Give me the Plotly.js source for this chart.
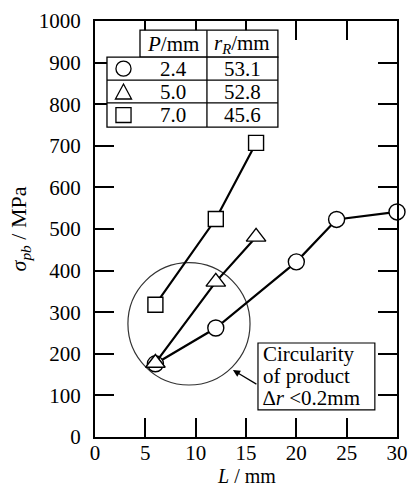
<!DOCTYPE html>
<html><head><meta charset="utf-8">
<script src="https://cdn.plot.ly/plotly-3.0.1.min.js"></script>
<style>html,body{margin:0;padding:0;background:#fff}</style>
</head><body><div id="chart" style="width:409px;height:486px"></div>
<script>
// Data
const circleL = [6, 12, 20, 24, 30];
const circleS = [176, 262, 421, 523, 541];
const triL = [6, 12, 16];
const triS = [178, 373, 481];
const sqL = [6, 12, 16];
const sqS = [318, 524, 707];
const tableHeader = ['<i>P</i>/mm', '<i>r</i><sub><i>R</i></sub>/mm'];
const tableP = ['2.4', '5.0', '7.0'];
const tableR = ['53.1', '52.8', '45.6'];
const noteLines = ['Circularity', 'of product', '<i>∆r</i> &lt;0.2mm'];

const font = 'Liberation Serif';
const lineStyle = {color: '#000', width: 2.2};
function tr(x, y, sym, size) {
  return {x: x, y: y, mode: 'lines+markers', type: 'scatter', line: lineStyle,
    marker: {symbol: sym, size: size, color: '#fff', line: {color: '#000', width: 1.4}},
    cliponaxis: false, hoverinfo: 'skip'};
}
const traces = [tr(circleL, circleS, 'circle', 16), tr(sqL, sqS, 'square', 15), tr(triL, triS, 'triangle-up', 17)];

const cx = [1.19, 4.47, 11.12, 18.17];
const ry = [978, 913, 858, 803, 745];
const shapes = [];
shapes.push({type: 'circle', xref: 'x', yref: 'y', x0: 3.27, x1: 15.4, y0: 125, y1: 419, line: {color: '#333', width: 1.2}, layer: 'below'});
shapes.push({type: 'rect', xref: 'x', yref: 'y', x0: cx[1], x1: cx[3], y0: ry[1], y1: ry[0], fillcolor: '#fff', line: {color: '#000', width: 1.3}, layer: 'above'});
shapes.push({type: 'rect', xref: 'x', yref: 'y', x0: cx[0], x1: cx[3], y0: ry[4], y1: ry[1], fillcolor: '#fff', line: {color: '#000', width: 1.3}, layer: 'above'});
[ry[2], ry[3]].forEach(y => shapes.push({type: 'line', xref: 'x', yref: 'y', x0: cx[0], x1: cx[3], y0: y, y1: y, line: {color: '#000', width: 1.3}, layer: 'above'}));
shapes.push({type: 'line', xref: 'x', yref: 'y', x0: cx[2], x1: cx[2], y0: ry[4], y1: ry[0], line: {color: '#000', width: 1.3}, layer: 'above'});
const sx = (cx[0] + cx[1]) / 2, dx = 0.75, dy = 18;
const rowC = [(ry[1] + ry[2]) / 2, (ry[2] + ry[3]) / 2, (ry[3] + ry[4]) / 2];
shapes.push({type: 'circle', xref: 'x', yref: 'y', x0: sx - dx, x1: sx + dx, y0: rowC[0] - dy, y1: rowC[0] + dy, line: {color: '#000', width: 1.3}, layer: 'above'});
shapes.push({type: 'path', xref: 'x', yref: 'y', path: `M ${sx - dx - 0.05},${rowC[1] - dy} L ${sx + dx + 0.05},${rowC[1] - dy} L ${sx},${rowC[1] + dy} Z`, line: {color: '#000', width: 1.3}, layer: 'above'});
shapes.push({type: 'rect', xref: 'x', yref: 'y', x0: sx - dx, x1: sx + dx, y0: rowC[2] - dy, y1: rowC[2] + dy, line: {color: '#000', width: 1.3}, layer: 'above'});
shapes.push({type: 'rect', xref: 'x', yref: 'y', x0: 16.19, x1: 27.8, y0: 65, y1: 226, fillcolor: '#fff', line: {color: '#000', width: 1.2}, layer: 'above'});

const annotations = [];
const colC = [(cx[1] + cx[2]) / 2, (cx[2] + cx[3]) / 2];
const hdrC = (ry[0] + ry[1]) / 2;
tableHeader.forEach((t, i) => annotations.push({x: colC[i], y: hdrC, xref: 'x', yref: 'y', text: t, showarrow: false, font: {family: font, size: 21, color: '#000'}}));
for (let i = 0; i < 3; i++) {
  annotations.push({x: colC[0], y: rowC[i], xref: 'x', yref: 'y', text: tableP[i], showarrow: false, font: {family: font, size: 21, color: '#000'}});
  annotations.push({x: colC[1], y: rowC[i], xref: 'x', yref: 'y', text: tableR[i], showarrow: false, font: {family: font, size: 21, color: '#000'}});
}
const noteY = [199.5, 146.6, 93.8];
noteLines.forEach((t, i) => annotations.push({x: 16.45, y: noteY[i], xref: 'x', yref: 'y', xanchor: 'left', yanchor: 'middle', text: t, showarrow: false,
  font: {family: font, size: 21, color: '#000'}}));
annotations.push({x: 13.7, y: 161, xref: 'x', yref: 'y', text: '', showarrow: true, ax: 25, ay: 15, arrowhead: 2, arrowsize: 1.2, arrowwidth: 1.2, arrowcolor: '#000'});
annotations.push({x: 0.5, y: 0, xref: 'paper', yref: 'paper', yanchor: 'middle', yshift: -38.5, text: '<i>L</i> / mm', showarrow: false, font: {family: font, size: 20, color: '#000'}});

const axisCommon = {showline: true, linewidth: 2, linecolor: '#000', mirror: 'ticks', ticks: 'inside', ticklen: 19, tickwidth: 2, tickcolor: '#000',
  showgrid: false, zeroline: false, fixedrange: true};
const layout = {
  width: 409, height: 486, margin: {l: 95, r: 12, t: 21, b: 49},
  font: {family: font, size: 21, color: '#000'},
  paper_bgcolor: '#fff', plot_bgcolor: '#fff', showlegend: false,
  xaxis: Object.assign({}, axisCommon, {range: [0, 30], dtick: 5, tick0: 0, ticklabelstandoff: -4,
    tickfont: {family: font, size: 21, color: '#000'}}),
  yaxis: Object.assign({}, axisCommon, {range: [0, 1000], dtick: 100, tick0: 0, ticklabelstandoff: 8,
    tickfont: {family: font, size: 21, color: '#000'},
    title: {text: '<i>σ</i><sub><i>pb</i></sub> / MPa', font: {family: font, size: 22, color: '#000'}, standoff: 6}}),
  shapes: shapes, annotations: annotations
};
Plotly.newPlot('chart', traces, layout, {staticPlot: true});
</script></body></html>
